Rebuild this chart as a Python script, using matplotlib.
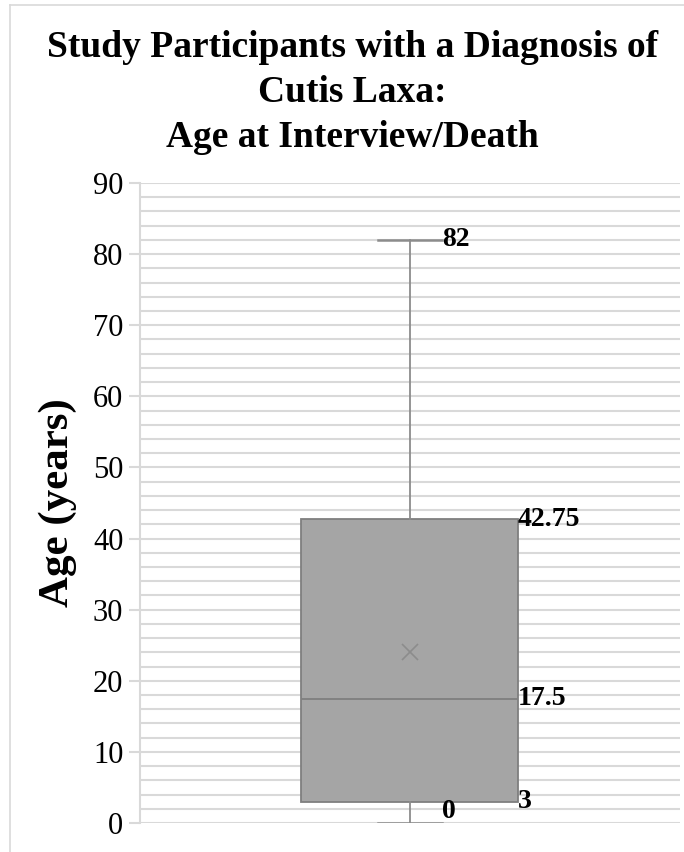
import matplotlib
matplotlib.use('Agg')
import matplotlib.pyplot as plt
from matplotlib.lines import Line2D

plt.rcParams['font.family'] = ['Liberation Serif', 'DejaVu Serif']

# box plot summary (years)
age_min = 0
age_q1 = 3
age_median = 17.5
age_q3 = 42.75
age_max = 82
age_mean = 24
y_ticks = [0, 10, 20, 30, 40, 50, 60, 70, 80, 90]
value_labels = ['0', '3', '17.5', '42.75', '82']

fig = plt.figure(figsize=(6.84, 8.52), dpi=100)
ax = fig.add_axes([0.2047, 0.034, 0.7893, 0.7512])

stats = [{'whislo': age_min, 'q1': age_q1, 'med': age_median, 'q3': age_q3,
          'whishi': age_max, 'mean': age_mean, 'fliers': []}]
ax.bxp(stats, positions=[1], widths=0.402, capwidths=0.117, showmeans=True,
       patch_artist=True, zorder=3,
       boxprops=dict(facecolor='#a5a5a5', edgecolor='#7f7f7f', linewidth=1.3),
       medianprops=dict(color='#7f7f7f', linewidth=1.3),
       whiskerprops=dict(color='#8c8c8c', linewidth=1.3),
       capprops=dict(color='#8c8c8c', linewidth=1.8),
       meanprops=dict(marker='x', markeredgecolor='#8c8c8c', markersize=12,
                      markeredgewidth=1.2))

ax.set_xlim(0.5, 1.5)
ax.set_ylim(0, 90)
ax.set_yticks(y_ticks)
ax.set_yticks(range(0, 91, 2), minor=True)
ax.set_xticks([])
ax.grid(axis='y', which='both', color='#d9d9d9', linewidth=1.5, zorder=0)
ax.set_axisbelow(True)
for side in ['top', 'right', 'bottom']:
    ax.spines[side].set_visible(False)
ax.spines['left'].set_color('#d9d9d9')
ax.spines['left'].set_linewidth(1.5)
ax.tick_params(axis='y', which='major', length=8, color='#d9d9d9', width=1.5,
               labelsize=22, pad=4)
ax.tick_params(axis='y', which='minor', length=0)
ax.set_ylabel('Age (years)', fontsize=31, fontweight='bold')
ax.yaxis.set_label_coords(-0.117, 0.5)

lab = dict(fontsize=20, fontweight='bold', va='center', ha='left')
ax.text(1.06, age_max, value_labels[4], **lab)
ax.text(1.199, age_q3, value_labels[3], **lab)
ax.text(1.199, age_median, value_labels[2], **lab)
ax.text(1.199, age_q1, value_labels[1], **lab)
ax.text(1.06, age_min + 1.6, value_labels[0], **lab)

fig.text(0.515, 0.965, 'Study Participants with a Diagnosis of\nCutis Laxa:\nAge at Interview/Death',
         ha='center', va='top', fontsize=27, fontweight='bold', linespacing=1.37)

# outer chart frame
fig.add_artist(Line2D([0.0146, 0.0146], [0, 0.994], transform=fig.transFigure,
                      color='#d9d9d9', linewidth=1.2))
fig.add_artist(Line2D([0.0146, 1], [0.994, 0.994], transform=fig.transFigure,
                      color='#d9d9d9', linewidth=1.2))

fig.savefig('out.png', dpi=100)
